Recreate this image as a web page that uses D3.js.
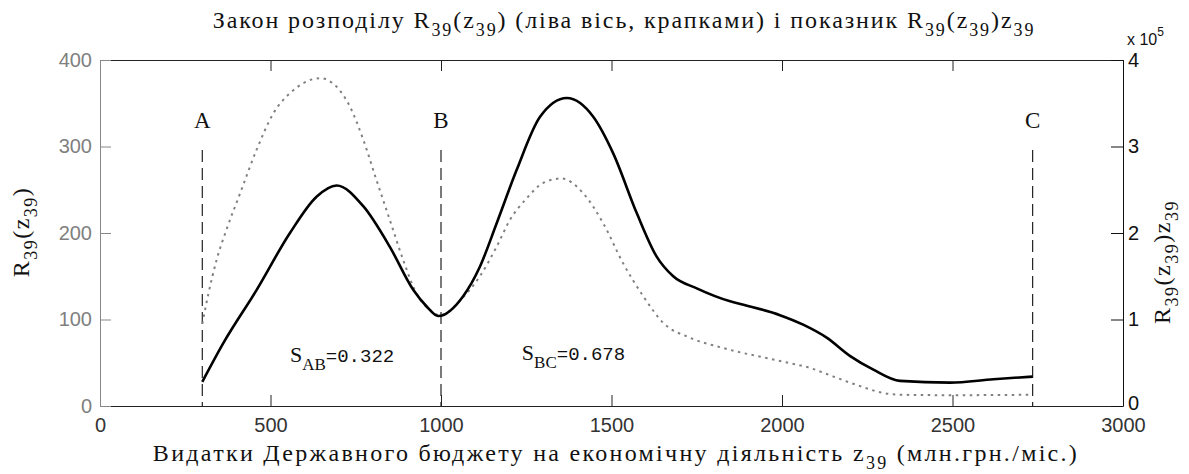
<!DOCTYPE html>
<html>
<head>
<meta charset="utf-8">
<script src="https://cdn.jsdelivr.net/npm/d3@7"></script>
<style>
  body { margin: 0; background: #fff; }
  svg { display: block; }
  .serif { font-family: "Liberation Serif", "Times New Roman", serif; }
</style>
</head>
<body>
<svg id="chart" width="1189" height="474"></svg>
<script>
// R39(z39)*z39, right axis
var rzX = [300, 362, 459, 557, 635, 694, 772, 850, 919, 958, 992, 1065, 1114, 1163, 1222, 1290,
           1369, 1447, 1505, 1574, 1632, 1681, 1750, 1848, 1887, 1994, 2062, 2131, 2199, 2268,
           2346, 2493, 2620, 2735];
var rzY = [28000, 73000, 134000, 200000, 242000, 255000, 231000, 184000, 134000, 115000, 104000,
           127000, 161000, 211000, 273000, 334000, 356000, 334000, 292000, 223000, 173000, 150000,
           136000, 121000, 117000, 105000, 94000, 79000, 58000, 42000, 29000, 27000, 31000, 34000];

// R39(z39), left axis (dotted line)
var rX = [300, 318, 342, 371, 411, 459, 508, 567, 626, 645, 694, 733, 772, 811, 850, 889, 928,
          968, 995, 1065, 1114, 1163, 1202, 1251, 1300, 1353, 1417, 1476, 1534, 1593, 1652,
          1730, 1828, 1994, 2082, 2151, 2229, 2297, 2346, 2500, 2735];
var rY = [95, 130, 169, 204, 246, 296, 338, 365, 378, 379, 369, 346, 308, 261, 215, 169, 130,
          111, 105, 126, 150, 184, 215, 240, 258, 263, 246, 211, 165, 127, 96,
          79, 67, 52, 44, 34, 23, 15, 13, 12.5, 13];

// segment borders and areas
var borderX = [300, 1000, 2735];
var borderNames = ["A", "B", "C"];
var areaNames = ["AB", "BC"];
var areaValues = ["0.322", "0.678"];

var xTicks = [0, 500, 1000, 1500, 2000, 2500, 3000];
var leftTicks = [0, 100, 200, 300, 400];
var rightTicks = [0, 100000, 200000, 300000, 400000];

var svg = d3.select("#chart"),
    margin = {left: 100, top: 60, right: 66, bottom: 68},
    width = +svg.attr("width") - margin.left - margin.right,
    height = +svg.attr("height") - margin.top - margin.bottom;

var x = d3.scaleLinear().domain([0, 3000]).range([margin.left, margin.left + width]),
    yL = d3.scaleLinear().domain([0, 400]).range([margin.top + height, margin.top]),
    yR = d3.scaleLinear().domain([0, 400000]).range([margin.top + height, margin.top]);

var sans = "Liberation Sans, Arial, sans-serif";

// text with subscripts: parts = [[text, isSub], ...]
function richText(sel, parts, size, subSize, shift) {
    var off = 0;
    parts.forEach(function (p) {
        var want = p[1] ? shift : 0;
        sel.append("tspan")
           .attr("dy", want - off)
           .attr("font-size", p[1] ? subSize : size)
           .text(p[0]);
        off = want;
    });
}

// axes
var gx = svg.append("g")
    .attr("transform", "translate(0," + (margin.top + height) + ")")
    .call(d3.axisBottom(x).tickValues(xTicks).tickSizeInner(-11).tickSizeOuter(0).tickPadding(12)
            .tickFormat(d3.format("d")));
gx.select(".domain").attr("stroke", "#222");
gx.selectAll(".tick line").attr("stroke", "#222");
gx.selectAll(".tick text").attr("fill", "#333").attr("font-size", 20).attr("font-family", sans);

var gt = svg.append("g")
    .attr("transform", "translate(0," + margin.top + ")")
    .call(d3.axisTop(x).tickValues(xTicks).tickSizeInner(-11).tickSizeOuter(0).tickFormat(""));
gt.select(".domain").attr("stroke", "#222");
gt.selectAll(".tick line").attr("stroke", "#222");

var gl = svg.append("g")
    .attr("transform", "translate(" + margin.left + ",0)")
    .call(d3.axisLeft(yL).tickValues(leftTicks).tickSizeInner(-11).tickSizeOuter(0).tickPadding(8));
gl.select(".domain").attr("stroke", "#888");
gl.selectAll(".tick line").attr("stroke", "#888");
gl.selectAll(".tick text").attr("fill", "#808080").attr("font-size", 20).attr("font-family", sans);

var gr = svg.append("g")
    .attr("transform", "translate(" + (margin.left + width) + ",0)")
    .call(d3.axisRight(yR).tickValues(rightTicks).tickSizeInner(-12).tickSizeOuter(0).tickPadding(5)
            .tickFormat(function (d) { return d / 1e5; }));
gr.select(".domain").attr("stroke", "#111");
gr.selectAll(".tick line").attr("stroke", "#111");
gr.selectAll(".tick text").attr("fill", "#111").attr("font-size", 20).attr("font-family", sans)
  .attr("y", function (d) { return d === 0 ? -3 : 0; });

// exponent label
var ex = svg.append("text").attr("x", margin.left + width + 4).attr("y", margin.top - 15)
    .attr("font-family", sans).attr("fill", "#111");
ex.append("tspan").attr("font-size", 16).text("x 10");
ex.append("tspan").attr("font-size", 12).attr("dy", -9).text("5");

// border dashed lines and letters
svg.append("g").selectAll("line")
    .data(borderX)
    .enter().append("line")
        .attr("x1", function (d) { return x(d); })
        .attr("x2", function (d) { return x(d); })
        .attr("y1", yL(296))
        .attr("y2", yL(0))
        .attr("stroke", "#222")
        .attr("stroke-width", 1.2)
        .attr("stroke-dasharray", "12,6");

svg.append("g").selectAll("text")
    .data(borderNames)
    .enter().append("text")
        .attr("class", "serif")
        .attr("x", function (d, i) { return x(borderX[i]); })
        .attr("y", yL(321))
        .attr("text-anchor", "middle")
        .attr("font-size", 23)
        .attr("fill", "#111")
        .text(function (d) { return d; });

// curves
var lineR = d3.line()
    .x(function (d, i) { return x(rX[i]); })
    .y(function (d) { return yL(d); })
    .curve(d3.curveMonotoneX);
var lineRZ = d3.line()
    .x(function (d, i) { return x(rzX[i]); })
    .y(function (d) { return yR(d); })
    .curve(d3.curveMonotoneX);

svg.append("path")
    .datum(rY)
    .attr("d", lineR)
    .attr("fill", "none")
    .attr("stroke", "#808080")
    .attr("stroke-width", 2)
    .attr("stroke-dasharray", "2.5,4.5");

svg.append("path")
    .datum(rzY)
    .attr("d", lineRZ)
    .attr("fill", "none")
    .attr("stroke", "#000")
    .attr("stroke-width", 2.6)
    .attr("stroke-linejoin", "round");

// area labels
var areaPos = [[557, 51], [1237, 53]];
areaNames.forEach(function (n, i) {
    var t = svg.append("text")
        .attr("x", x(areaPos[i][0]))
        .attr("y", yL(areaPos[i][1]))
        .attr("fill", "#111");
    t.append("tspan").attr("class", "serif").attr("font-size", 22).text("S");
    t.append("tspan").attr("class", "serif").attr("font-size", 17).attr("dy", 8).text(n);
    t.append("tspan").attr("font-family", "Liberation Mono, Courier New, monospace")
        .attr("font-size", 19).attr("dy", -8).text("=" + areaValues[i]);
});

// title and axis labels
var title = svg.append("text").attr("class", "serif")
    .attr("x", 624).attr("y", 28).attr("text-anchor", "middle").attr("fill", "#111")
    .attr("letter-spacing", 1.9);
richText(title, [["Закон розподілу R", 0], ["39", 1], ["(z", 0], ["39", 1],
                 [") (ліва вісь, крапками) і показник R", 0], ["39", 1], ["(z", 0], ["39", 1],
                 [")z", 0], ["39", 1]], 24, 18, 8);

var xlab = svg.append("text").attr("class", "serif")
    .attr("x", 616).attr("y", 461).attr("text-anchor", "middle").attr("fill", "#111")
    .attr("letter-spacing", 2.3);
richText(xlab, [["Видатки Державного бюджету на економічну діяльність z", 0], ["39", 1],
                [" (млн.грн./міс.)", 0]], 24, 18, 8);

var ylab = svg.append("text").attr("class", "serif")
    .attr("transform", "translate(29,232) rotate(-90)")
    .attr("text-anchor", "middle").attr("fill", "#111").attr("letter-spacing", 1.5);
richText(ylab, [["R", 0], ["39", 1], ["(z", 0], ["39", 1], [")", 0]], 24, 18, 8);

var yrlab = svg.append("text").attr("class", "serif")
    .attr("transform", "translate(1170,262) rotate(-90)")
    .attr("text-anchor", "middle").attr("fill", "#111").attr("letter-spacing", 1.5);
richText(yrlab, [["R", 0], ["39", 1], ["(z", 0], ["39", 1], [")z", 0], ["39", 1]], 24, 18, 8);
</script>
</body>
</html>
